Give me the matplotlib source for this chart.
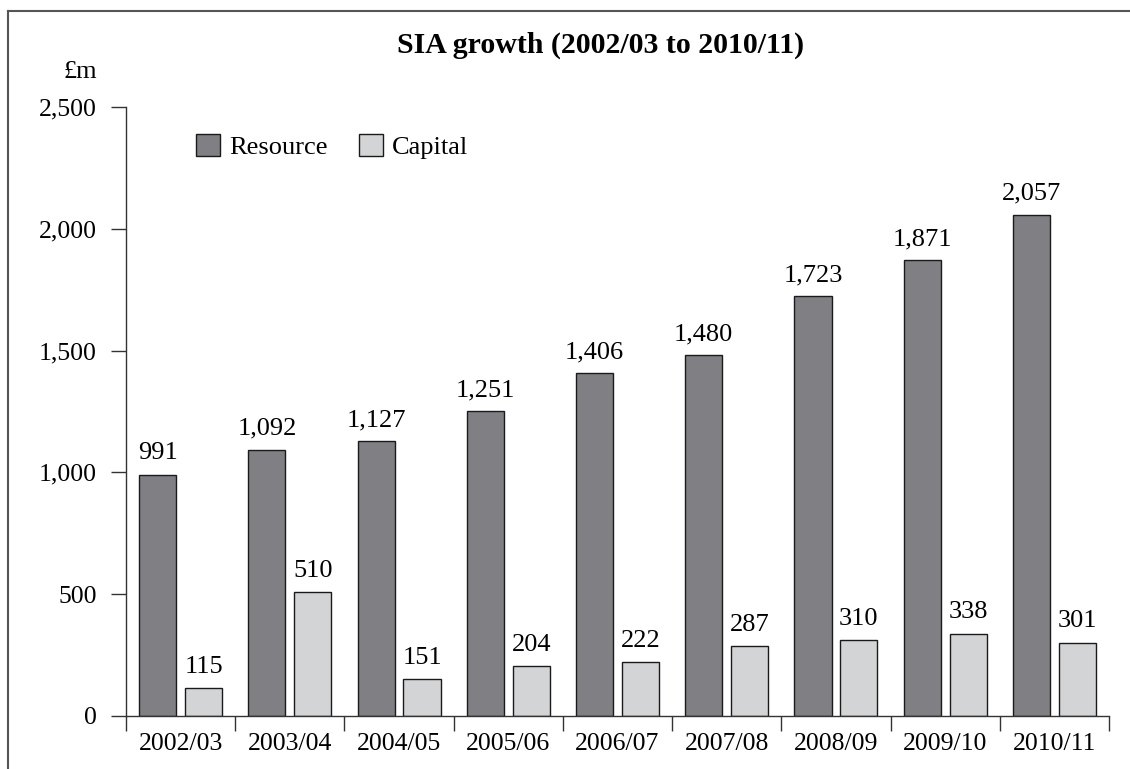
#!/usr/bin/env python3

import numpy as np
import matplotlib.pyplot as plt
from matplotlib.lines import Line2D
from matplotlib.patches import Patch

# data
years = ['2002/03', '2003/04', '2004/05', '2005/06', '2006/07',
         '2007/08', '2008/09', '2009/10', '2010/11']
resource = [991, 1092, 1127, 1251, 1406, 1480, 1723, 1871, 2057]
capital = [115, 510, 151, 204, 222, 287, 310, 338, 301]
y_ticks = [0, 500, 1000, 1500, 2000, 2500]

plt.rcParams['font.family'] = ['Liberation Serif', 'DejaVu Serif']

fig = plt.figure(figsize=(11.3, 7.69), dpi=100)
ax = fig.add_axes([126 / 1130, 1 - 716 / 769, (1109 - 126) / 1130, (716 - 107) / 769])

dark = '#7f7f84'
light = '#d3d4d6'
edge = '#1a1a1a'
x = np.arange(len(years)) + 0.5
w = 0.34
off = 0.21

ax.bar(x - off, resource, w, color=dark, edgecolor=edge, linewidth=1)
ax.bar(x + off, capital, w, color=light, edgecolor=edge, linewidth=1)

for xi, v in zip(x, resource):
    ax.text(xi - off, v + 42, f'{v:,}', ha='center', va='bottom', fontsize=19)
for xi, v in zip(x, capital):
    ax.text(xi + off, v + 42, f'{v:,}', ha='center', va='bottom', fontsize=19)

ax.set_xlim(0, len(years))
ax.set_ylim(0, 2500)
ax.set_yticks(y_ticks)
ax.set_yticklabels([f'{t:,}' for t in y_ticks])
ax.set_xticks(x)
ax.set_xticklabels(years)
ax.set_xticks(np.arange(len(years) + 1), minor=True)
ax.tick_params(axis='x', which='major', length=0, pad=12, labelsize=18.5)
ax.tick_params(axis='x', which='minor', length=11, width=1, direction='out', color='#333333')
ax.tick_params(axis='y', length=11, width=1, direction='out', pad=10, labelsize=18.5, color='#333333')

for s in ['top', 'right']:
    ax.spines[s].set_visible(False)
for s in ['left', 'bottom']:
    ax.spines[s].set_color('#333333')
    ax.spines[s].set_linewidth(1)

fig.text(97 / 1130, 1 - 72 / 769, '£m', ha='right', va='center', fontsize=19)
fig.text(601 / 1130, 1 - 45 / 769, 'SIA growth (2002/03 to 2010/11)',
         ha='center', va='center', fontsize=21.5, fontweight='bold')

handles = [Patch(facecolor=dark, edgecolor=edge, label='Resource'),
           Patch(facecolor=light, edgecolor=edge, label='Capital')]
ax.legend(handles=handles, loc='upper left', bbox_to_anchor=(0.047, 0.995), ncol=2,
          frameon=False, fontsize=19, handlelength=0.9, handleheight=0.9,
          handletextpad=0.35, columnspacing=1.2)

# frame lines on left and top of the figure
fig.add_artist(Line2D([8 / 1130, 8 / 1130], [0, 1 - 11 / 769], color='#555555', lw=1.5))
fig.add_artist(Line2D([8 / 1130, 1], [1 - 11 / 769, 1 - 11 / 769], color='#555555', lw=1.5))

fig.savefig('out.png', dpi=100)
